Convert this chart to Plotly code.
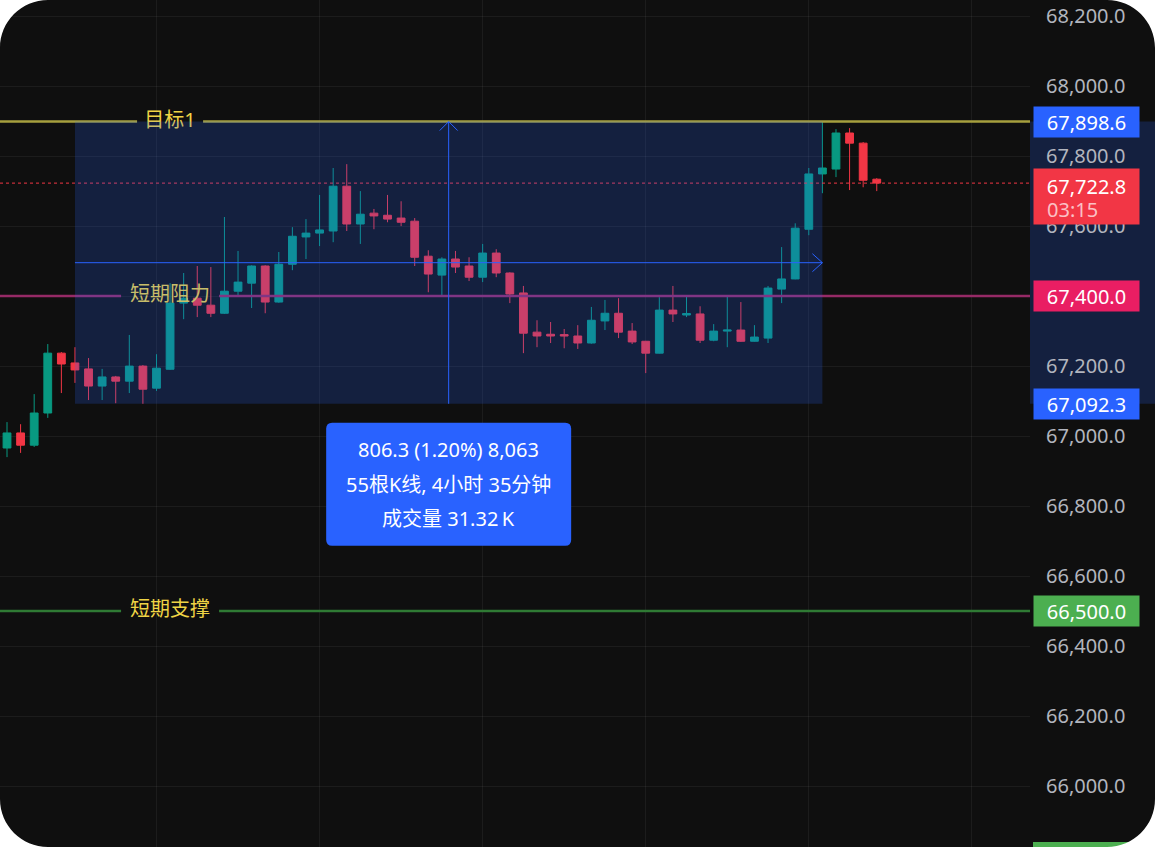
import plotly.graph_objects as go

# ---------------- data ----------------
opens = [66966, 67009, 66974, 67066, 67237, 67209, 67192, 67143, 67169, 67157,
         67200, 67137, 67191, 67380, 67394, 67374, 67351, 67414, 67437, 67486,
         67383, 67491, 67569, 67580, 67586, 67714, 67606, 67637, 67631, 67623,
         67614, 67514, 67460, 67506, 67486, 67454, 67523, 67466, 67409, 67297,
         67291, 67290, 67286, 67266, 67329, 67351, 67300, 67271, 67237, 67360,
         67346, 67349, 67274, 67300, 67303, 67271, 67280, 67420, 67449, 67591,
         67749, 67763, 67866, 67837, 67734]
highs = [67040, 67034, 67120, 67263, 67240, 67254, 67223, 67192, 67172, 67289,
         67203, 67234, 67437, 67466, 67486, 67483, 67626, 67529, 67488, 67488,
         67526, 67597, 67620, 67689, 67766, 67777, 67700, 67649, 67689, 67671,
         67623, 67531, 67511, 67529, 67511, 67549, 67534, 67468, 67429, 67331,
         67326, 67306, 67317, 67369, 67389, 67394, 67323, 67272, 67397, 67429,
         67400, 67371, 67320, 67400, 67383, 67317, 67429, 67540, 67608, 67766,
         67898.6, 67877, 67880, 67840, 67737]
lows = [66940, 66952, 66969, 67052, 67123, 67152, 67103, 67103, 67094, 67123,
        67092.3, 67129, 67189, 67334, 67340, 67340, 67349, 67400, 67366, 67351,
        67381, 67474, 67506, 67543, 67554, 67586, 67549, 67591, 67611, 67600,
        67486, 67411, 67403, 67466, 67443, 67440, 67454, 67380, 67237, 67254,
        67266, 67251, 67249, 67264, 67303, 67280, 67263, 67180, 67236, 67326,
        67340, 67266, 67271, 67254, 67269, 67270, 67266, 67380, 67448, 67574,
        67694, 67740, 67703, 67711, 67700]
closes = [67009, 66974, 67066, 67237, 67206, 67189, 67143, 67169, 67157, 67200,
          67134, 67194, 67380, 67394, 67374, 67351, 67414, 67440, 67486, 67383,
          67491, 67571, 67580, 67589, 67714, 67606, 67634, 67629, 67620, 67611,
          67511, 67463, 67506, 67483, 67454, 67523, 67466, 67406, 67294, 67286,
          67286, 67286, 67266, 67331, 67351, 67297, 67269, 67237, 67360, 67349,
          67350, 67274, 67300, 67303, 67271, 67283, 67423, 67449, 67594, 67749,
          67766, 67866, 67837, 67731, 67722.8]
bar_index = list(range(len(opens)))

price_ticks = [66000.0, 66200.0, 66400.0, 66600.0, 66800.0, 67000.0,
               67200.0, 67400.0, 67600.0, 67800.0, 68000.0, 68200.0]

level_names = ["目标1", "短期阻力", "短期支撑"]
level_prices = [67898.6, 67400.0, 66500.0]
level_line_colors = ["#a69f3e", "#962a66", "#2f7a34"]
level_tag_colors = ["#2962ff", "#e91e63", "#4caf50"]
level_gap_px = [33, 49, 49]
label_bar = 12

measure_start = 5
measure_end = 60
measure_low = 67092.3
measure_high = 67898.6
measure_volume_k = 31.32
bar_minutes = 5
tick_size = 0.1

last_price = closes[-1]
countdown = "03:15"

# ---------------- style / geometry ----------------
FIG_W, FIG_H, PLOT_W = 1155, 847, 1030
BAR_PX, FIRST_BAR_PX = 13.59, 7
Y_MIN, Y_MAX = 65826, 68246
PX_PER_PRICE = FIG_H / (Y_MAX - Y_MIN)
X_MIN = -FIRST_BAR_PX / BAR_PX
X_MAX = (PLOT_W - FIRST_BAR_PX) / BAR_PX

BG = "#0f0f0f"
GRID = "rgba(242,242,242,0.06)"
UP, DOWN = "#089981", "#f23645"
BLUE = "#2962ff"
YELLOW = "#efd445"
FONT = "Noto Sans, Noto Sans CJK SC, sans-serif"
FS = 20


def dx(px):
    return px / BAR_PX


def dy(px):
    return px / PX_PER_PRICE


fig = go.Figure()
fig.add_trace(go.Candlestick(
    x=bar_index, open=opens, high=highs, low=lows, close=closes,
    increasing=dict(line=dict(color=UP, width=1), fillcolor=UP),
    decreasing=dict(line=dict(color=DOWN, width=1), fillcolor=DOWN),
    whiskerwidth=0, hoverinfo="skip", showlegend=False))

for name, price in zip(level_names, level_prices):
    fig.add_trace(go.Scatter(
        x=[label_bar], y=[price], mode="text", text=[name],
        textposition="middle center",
        textfont=dict(color=YELLOW, size=FS, family=FONT),
        hoverinfo="skip", showlegend=False, cliponaxis=False))

shapes = []
# level lines with a gap around the label
for price, col, gap in zip(level_prices, level_line_colors, level_gap_px):
    for a, b in [(X_MIN, label_bar - dx(gap)), (label_bar + dx(gap), X_MAX)]:
        shapes.append(dict(type="line", xref="x", yref="y", x0=a, x1=b,
                           y0=price, y1=price, layer="above",
                           line=dict(color=col, width=2.5)))
# last price dotted line
shapes.append(dict(type="line", xref="x", yref="y", x0=X_MIN, x1=X_MAX,
                   y0=last_price, y1=last_price, layer="above",
                   line=dict(color=DOWN, width=1, dash="dot")))
# measuring rectangle
shapes.append(dict(type="rect", xref="x", yref="y", x0=measure_start, x1=measure_end,
                   y0=measure_low, y1=measure_high, layer="above",
                   fillcolor="rgba(41,98,255,0.2)", line=dict(width=0)))
# axis highlight
shapes.append(dict(type="rect", xref="paper", yref="y", x0=1, x1=FIG_W / PLOT_W,
                   y0=measure_low, y1=measure_high, layer="below",
                   fillcolor="rgba(41,98,255,0.2)", line=dict(width=0)))
mid_bar = (measure_start + measure_end) / 2
mid_price = (measure_low + measure_high) / 2
shapes.append(dict(type="line", xref="x", yref="y", x0=mid_bar, x1=mid_bar,
                   y0=measure_low, y1=measure_high, layer="above",
                   line=dict(color=BLUE, width=1)))
shapes.append(dict(type="line", xref="x", yref="y", x0=measure_start, x1=measure_end,
                   y0=mid_price, y1=mid_price, layer="above",
                   line=dict(color=BLUE, width=1)))
shapes.append(dict(type="path", xref="x", yref="y", layer="above",
                   path=f"M {mid_bar - dx(9)},{measure_high - dy(9)} L {mid_bar},{measure_high} "
                        f"L {mid_bar + dx(9)},{measure_high - dy(9)}",
                   line=dict(color=BLUE, width=1)))
shapes.append(dict(type="path", xref="x", yref="y", layer="above",
                   path=f"M {measure_end - dx(10)},{mid_price + dy(9)} L {measure_end},{mid_price} "
                        f"L {measure_end - dx(10)},{mid_price - dy(9)}",
                   line=dict(color=BLUE, width=1)))

# info box (rounded rectangle below the measuring box)
bx0, bx1 = mid_bar - dx(122.5), mid_bar + dx(122.5)
by0, by1 = measure_low - dy(19), measure_low - dy(142)
rx, ry = dx(6), dy(6)
info_path = (f"M {bx0 + rx},{by0} L {bx1 - rx},{by0} Q {bx1},{by0} {bx1},{by0 - ry} "
             f"L {bx1},{by1 + ry} Q {bx1},{by1} {bx1 - rx},{by1} "
             f"L {bx0 + rx},{by1} Q {bx0},{by1} {bx0},{by1 + ry} "
             f"L {bx0},{by0 - ry} Q {bx0},{by0} {bx0 + rx},{by0} Z")
shapes.append(dict(type="path", xref="x", yref="y", layer="above", path=info_path,
                   fillcolor=BLUE, line=dict(width=0)))

# partially visible green tag at bottom of price scale
shapes.append(dict(type="rect", xref="paper", yref="paper", x0=1033 / PLOT_W, x1=1138 / PLOT_W,
                   y0=1 - 872 / FIG_H, y1=1 - 842 / FIG_H, layer="above",
                   fillcolor="#4caf50", line=dict(width=0)))

# white rounded corners
R, K = 48, 0.5523


def px2paper(x, y):
    return x / PLOT_W, 1 - y / FIG_H


for cx, cy, sx, sy in [(0, 0, 1, 1), (FIG_W, 0, -1, 1), (0, FIG_H, 1, -1), (FIG_W, FIG_H, -1, -1)]:
    p0 = px2paper(cx, cy)
    a = px2paper(cx + sx * R, cy)
    c1 = px2paper(cx + sx * R * (1 - K), cy)
    c2 = px2paper(cx, cy + sy * R * (1 - K))
    b = px2paper(cx, cy + sy * R)
    shapes.append(dict(type="path", xref="paper", yref="paper", layer="above",
                       path=f"M {p0[0]},{p0[1]} L {a[0]},{a[1]} C {c1[0]},{c1[1]} {c2[0]},{c2[1]} {b[0]},{b[1]} Z",
                       fillcolor="#ffffff", line=dict(width=0)))

annotations = []
# price tags
TAG_X = 1033 / PLOT_W
for price, col in zip(level_prices, level_tag_colors):
    annotations.append(dict(xref="paper", yref="y", x=TAG_X, y=price, xanchor="left",
                            yanchor="middle", text=f"{price:,.1f}", showarrow=False,
                            width=97, height=22, borderpad=4, bgcolor=col, align="center",
                            font=dict(color="#ffffff", size=FS, family=FONT)))
annotations.append(dict(xref="paper", yref="y", x=TAG_X, y=measure_low, xanchor="left",
                        yanchor="middle", text=f"{measure_low:,.1f}", showarrow=False,
                        width=97, height=22, borderpad=4, bgcolor=BLUE, align="center",
                        font=dict(color="#ffffff", size=FS, family=FONT)))
annotations.append(dict(xref="paper", yref="y", x=TAG_X, y=last_price, xanchor="left",
                        yanchor="top", yshift=15, text=f"{last_price:,.1f}", showarrow=False,
                        width=97, height=47, borderpad=4, bgcolor=DOWN, align="center",
                        valign="top", font=dict(color="#ffffff", size=FS, family=FONT)))
annotations.append(dict(xref="paper", yref="y", x=1046 / PLOT_W, y=last_price, xanchor="left",
                        yanchor="middle", yshift=-26, text=countdown, showarrow=False,
                        borderpad=0, font=dict(color="rgba(255,255,255,0.7)", size=FS, family=FONT)))

# measurement info text
diff = measure_high - measure_low
pct = diff / measure_low * 100
n_bars = measure_end - measure_start
minutes = n_bars * bar_minutes
info_lines = [
    f"{diff:,.1f} ({pct:.2f}%) {round(diff / tick_size):,}",
    f"{n_bars}根K线, {minutes // 60}小时 {minutes % 60}分钟",
    f"成交量 {measure_volume_k:.2f}\u2009K",
]
for txt, shift in zip(info_lines, [-46, -80.5, -115]):
    annotations.append(dict(xref="x", yref="y", x=mid_bar, y=measure_low, xanchor="center",
                            yanchor="middle", yshift=shift, text=txt, showarrow=False,
                            font=dict(color="#ffffff", size=FS, family=FONT)))

fig.update_layout(
    width=FIG_W, height=FIG_H, autosize=False,
    margin=dict(l=0, r=FIG_W - PLOT_W, t=0, b=0, pad=0),
    paper_bgcolor=BG, plot_bgcolor=BG,
    showlegend=False, boxgap=0.18, hovermode=False,
    shapes=shapes, annotations=annotations,
    font=dict(family=FONT),
    xaxis=dict(range=[X_MIN, X_MAX], tick0=11, dtick=12, showticklabels=False,
               showgrid=True, gridcolor=GRID, gridwidth=1, zeroline=False, showline=False,
               ticks="", rangeslider=dict(visible=False), fixedrange=True),
    yaxis=dict(range=[Y_MIN, Y_MAX], side="right", tickvals=price_ticks, tickformat=",.1f",
               showgrid=True, gridcolor=GRID, gridwidth=1, zeroline=False, showline=False,
               ticks="", ticklabelstandoff=15,
               tickfont=dict(color="#b2b5be", size=FS, family=FONT), fixedrange=True),
)

fig.write_html(
    "out.html",
    config={"displayModeBar": False},
    post_script="document.body.style.margin='0';document.body.style.padding='0';"
                "document.documentElement.style.overflow='hidden';",
)
